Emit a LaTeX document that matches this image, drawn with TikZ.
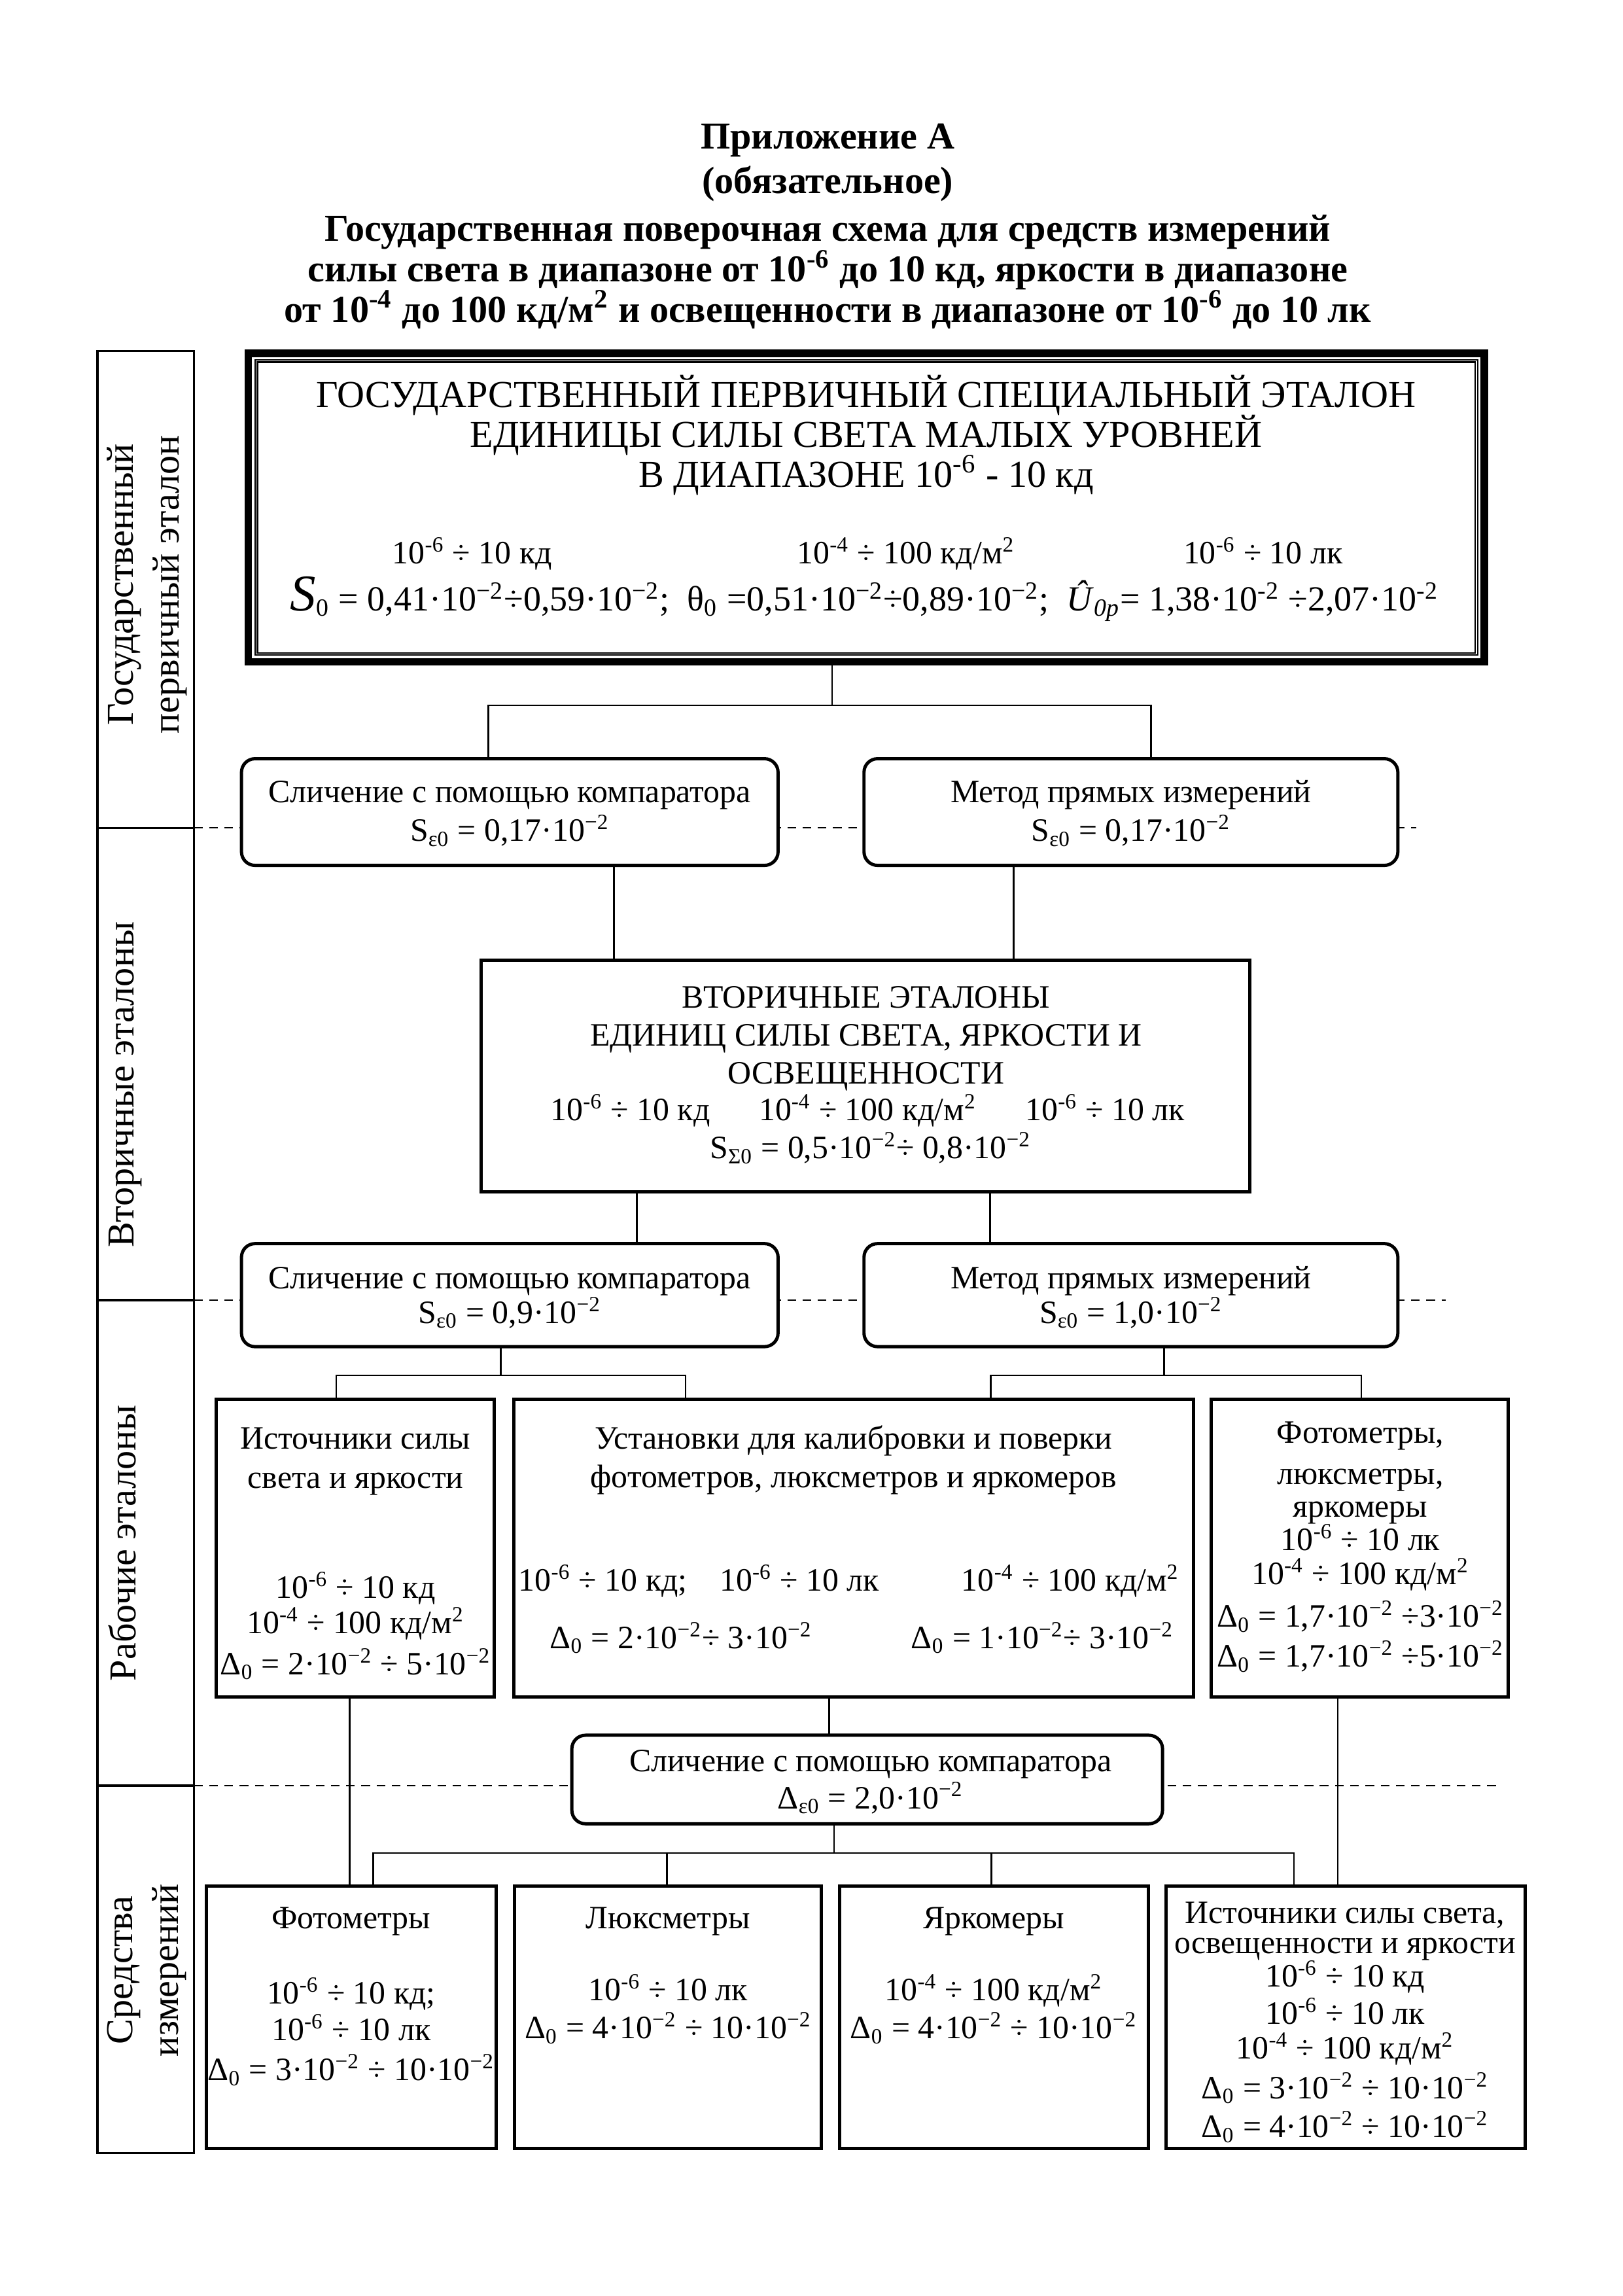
\documentclass[tikz,border=0pt]{standalone}
\usepackage{fontspec}
\setmainfont{Liberation Serif}
\newcommand{\supx}[1]{\textsuperscript{#1}}
\newcommand{\subx}[1]{\textsubscript{#1}}
\newcommand{\rkd}{10\supx{-6} ÷ 10 кд}
\newcommand{\rlk}{10\supx{-6} ÷ 10 лк}
\newcommand{\rkm}{10\supx{-4} ÷ 100 кд/м\supx{2}}
\begin{document}
\begin{tikzpicture}[x=0.0190909cm,y=-0.0190909cm,
  every node/.style={inner sep=0pt,outer sep=0pt},
  box/.style={draw,line width=1.2pt,fill=white},
  rbox/.style={box,rounded corners=5pt},
  txt/.style={anchor=base,font=\fontsize{12}{14}\selectfont},
  big/.style={anchor=base,font=\fontsize{14}{16}\selectfont},
  head/.style={anchor=base,font=\fontsize{14}{16}\selectfont\bfseries},
  side/.style={rotate=90,align=center,font=\fontsize{14}{17}\selectfont},
  conn/.style={line width=0.6pt},
  level/.style={line width=0.5pt,dash pattern=on 3.2pt off 2.4pt}]
  \useasboundingbox (0,0) rectangle (1100,1555.8);
  % title
  \node[head] (ttl1) at (561,100.8) {Приложение А};
  \node[head] (ttl2) at (561,131) {(обязательное)};
  \node[head] (ttl3) at (561,163.6) {Государственная поверочная схема для средств измерений};
  \node[head] (ttl4) at (561,191) {силы света в диапазоне от 10\supx{-6} до 10 кд, яркости в диапазоне};
  \node[head] (ttl5) at (561,218.3) {от 10\supx{-4} до 100 кд/м\supx{2} и освещенности в диапазоне от 10\supx{-6} до 10 лк};
  % levels column
  \draw[line width=0.8pt] (66,238) rectangle (131.5,1459);
  \foreach \y in {561,881,1210}
    \draw[line width=0.8pt] (66,\y) -- (131.5,\y);
  \node[side] (lv1) at (99.75,396) {Государственный\\первичный эталон};
  \node[side] (lv2) at (85,735) {Вторичные эталоны};
  \node[side] (lv3) at (83,1045.6) {Рабочие эталоны};
  \node[side] (lv4) at (99.5,1335) {Средства\\измерений};
  % dashed level borders
  \draw[level] (131.5,561) -- (960,561);
  \draw[level] (131.5,881) -- (980,881);
  \draw[level] (131.5,1210) -- (1015,1210);
  % primary standard
  \node[box,line width=2.8pt,minimum width=15.991cm,minimum height=3.992cm] (prim) at (587.2,343.85) {};
  \draw[line width=0.5pt,double,double distance=0.4pt] ([shift={(5.3,5.3)}]prim.north west) rectangle ([shift={(-5.3,-5.3)}]prim.south east);
  \node[big] (p1) at (587,276) {ГОСУДАРСТВЕННЫЙ ПЕРВИЧНЫЙ СПЕЦИАЛЬНЫЙ ЭТАЛОН};
  \node[big] (p2) at (587,303) {ЕДИНИЦЫ СИЛЫ СВЕТА МАЛЫХ УРОВНЕЙ};
  \node[big] (p3) at (587,330) {В ДИАПАЗОНЕ 10\supx{-6} - 10 кд};
  \node[txt] (p4) at (320,382) {\rkd};
  \node[txt] (p5) at (614,382) {\rkm};
  \node[txt] (p6) at (856,382) {\rlk};
  \node[txt,font=\fontsize{13}{15}\selectfont] (p7) at (586,414) {{\fontsize{19}{19}\selectfont\itshape S}\subx{0} = 0,41·10\supx{−2}÷0,59·10\supx{−2};\ \ θ\subx{0} =0,51·10\supx{−2}÷0,89·10\supx{−2};\ \ \textit{Û}\subx{\textit{0p}}= 1,38·10\supx{-2} ÷2,07·10\supx{-2}};
  % transfer to secondary
  \node[rbox,minimum width=6.942cm,minimum height=1.380cm] (cmpA) at (345.5,550.25) {};
  \node[rbox,minimum width=6.907cm,minimum height=1.380cm] (dirA) at (766.5,550.25) {};
  \node[txt] (a1) at (345.5,544) {Сличение с помощью компаратора};
  \node[txt] (a2) at (345.5,570) {S\subx{ε0} = 0,17·10\supx{−2}};
  \node[txt] (a3) at (766.5,544) {Метод прямых измерений};
  \node[txt] (a4) at (766.5,570) {S\subx{ε0} = 0,17·10\supx{−2}};
  % secondary standards
  \node[box,minimum width=9.943cm,minimum height=2.997cm] (sec) at (586.5,729.1) {};
  \node[txt] (s1) at (587,683) {ВТОРИЧНЫЕ ЭТАЛОНЫ};
  \node[txt] (s2) at (587,708.7) {ЕДИНИЦ СИЛЫ СВЕТА, ЯРКОСТИ И};
  \node[txt] (s3) at (587,734.4) {ОСВЕЩЕННОСТИ};
  \node[txt] (s4) at (588,759.3) {\rkd\hspace{18pt}\rkm\hspace{18pt}\rlk};
  \node[txt] (s5) at (590,785) {S\subx{Σ0} = 0,5·10\supx{−2}÷ 0,8·10\supx{−2}};
  % transfer to working
  \node[rbox,minimum width=6.942cm,minimum height=1.333cm] (cmpB) at (345.5,877.6) {};
  \node[rbox,minimum width=6.907cm,minimum height=1.333cm] (dirB) at (766.5,877.6) {};
  \node[txt] (b1) at (345.5,873) {Сличение с помощью компаратора};
  \node[txt] (b2) at (345.5,896.7) {S\subx{ε0} = 0,9·10\supx{−2}};
  \node[txt] (b3) at (766.5,873) {Метод прямых измерений};
  \node[txt] (b4) at (766.5,896.7) {S\subx{ε0} = 1,0·10\supx{−2}};
  % working standards
  \node[box,minimum width=3.601cm,minimum height=3.849cm] (srcW) at (240.8,1048.9) {};
  \node[box,minimum width=8.797cm,minimum height=3.849cm] (instW) at (578.5,1048.9) {};
  \node[box,minimum width=3.843cm,minimum height=3.849cm] (metW) at (921.55,1048.9) {};
  \node[txt] (w1) at (241,982) {Источники силы};
  \node[txt] (w2) at (241,1008.4) {света и яркости};
  \node[txt] (w3) at (241,1083) {\rkd};
  \node[txt] (w4) at (241,1106.8) {\rkm};
  \node[txt] (w5) at (241,1134.8) {Δ\subx{0} = 2·10\supx{−2} ÷ 5·10\supx{−2}};
  \node[txt] (i1) at (578.5,982) {Установки для калибровки и поверки};
  \node[txt] (i2) at (578.5,1008) {фотометров, люксметров и яркомеров};
  \node[txt] (i3) at (473.6,1078) {10\supx{-6} ÷ 10 кд;\quad\rlk};
  \node[txt] (i4) at (725.5,1078) {\rkm};
  \node[txt] (i5) at (461.6,1117) {Δ\subx{0} = 2·10\supx{−2}÷ 3·10\supx{−2}};
  \node[txt] (i6) at (706.5,1117) {Δ\subx{0} = 1·10\supx{−2}÷ 3·10\supx{−2}};
  \node[txt] (m1) at (922,978) {Фотометры,};
  \node[txt] (m2) at (922,1005.8) {люксметры,};
  \node[txt] (m3) at (922,1027.8) {яркомеры};
  \node[txt] (m4) at (922,1050.7) {\rlk};
  \node[txt] (m5) at (922,1073.6) {\rkm};
  \node[txt] (m6) at (922,1102.5) {Δ\subx{0} = 1,7·10\supx{−2} ÷3·10\supx{−2}};
  \node[txt] (m7) at (922,1129.6) {Δ\subx{0} = 1,7·10\supx{−2} ÷5·10\supx{−2}};
  % transfer to instruments
  \node[rbox,minimum width=7.642cm,minimum height=1.145cm] (cmpC) at (587.75,1205.8) {};
  \node[txt] (c1) at (590,1200.5) {Сличение с помощью компаратора};
  \node[txt] (c2) at (590,1225.5) {Δ\subx{ε0} = 2,0·10\supx{−2}};
  % measuring instruments
  \node[box,minimum width=3.746cm,minimum height=3.394cm] (phot) at (238.2,1367) {};
  \node[box,minimum width=3.967cm,minimum height=3.394cm] (lux) at (452.6,1367) {};
  \node[box,minimum width=4.0cm,minimum height=3.394cm] (lum) at (673.65,1367) {};
  \node[box,minimum width=4.651cm,minimum height=3.394cm] (srcM) at (912.1,1367) {};
  \node[txt] (f1) at (238,1306.8) {Фотометры};
  \node[txt] (f2) at (238,1357.8) {10\supx{-6} ÷ 10 кд;};
  \node[txt] (f3) at (238,1382.7) {\rlk};
  \node[txt] (f4) at (238,1409.8) {Δ\subx{0} = 3·10\supx{−2} ÷ 10·10\supx{−2}};
  \node[txt] (l1) at (452.8,1306.8) {Люксметры};
  \node[txt] (l2) at (452.8,1355.6) {\rlk};
  \node[txt] (l3) at (452.8,1381.5) {Δ\subx{0} = 4·10\supx{−2} ÷ 10·10\supx{−2}};
  \node[txt] (y1) at (673.5,1306.8) {Яркомеры};
  \node[txt] (y2) at (673.5,1355.6) {\rkm};
  \node[txt] (y3) at (673.5,1381.5) {Δ\subx{0} = 4·10\supx{−2} ÷ 10·10\supx{−2}};
  \node[txt] (r1) at (911.6,1303.5) {Источники силы света,};
  \node[txt] (r2) at (911.6,1323.8) {освещенности и яркости};
  \node[txt] (r3) at (911.6,1346.5) {\rkd};
  \node[txt] (r4) at (911.6,1371.4) {\rlk};
  \node[txt] (r5) at (911.6,1395) {\rkm};
  \node[txt] (r6) at (911.6,1422) {Δ\subx{0} = 3·10\supx{−2} ÷ 10·10\supx{−2}};
  \node[txt] (r7) at (911.6,1448.4) {Δ\subx{0} = 4·10\supx{−2} ÷ 10·10\supx{−2}};
  % connectors
  \coordinate (jA) at (564,478);
  \coordinate (jAl) at (331,478);
  \coordinate (jAr) at (780,478);
  \draw[conn] (prim.south -| jA) -- (jA);
  \draw[conn] (cmpA.north -| jAl) -- (jAl) -- (jAr) -- (dirA.north -| jAr);
  \coordinate (kA) at (416,600);
  \coordinate (kB) at (687,600);
  \draw[conn] (cmpA.south -| kA) -- (sec.north -| kA);
  \draw[conn] (dirA.south -| kB) -- (sec.north -| kB);
  \coordinate (mA) at (431.7,825);
  \coordinate (mB) at (671,825);
  \draw[conn] (sec.south -| mA) -- (cmpB.north -| mA);
  \draw[conn] (sec.south -| mB) -- (dirB.north -| mB);
  \coordinate (jB) at (339.5,932);
  \coordinate (jBl) at (228,932);
  \coordinate (jBr) at (464.6,932);
  \draw[conn] (cmpB.south -| jB) -- (jB);
  \draw[conn] (srcW.north -| jBl) -- (jBl) -- (jBr) -- (instW.north -| jBr);
  \coordinate (jC) at (789,932);
  \coordinate (jCl) at (671.5,932);
  \coordinate (jCr) at (922.6,932);
  \draw[conn] (dirB.south -| jC) -- (jC);
  \draw[conn] (instW.north -| jCl) -- (jCl) -- (jCr) -- (metW.north -| jCr);
  \coordinate (nA) at (237,1200);
  \coordinate (nB) at (562,1160);
  \coordinate (nC) at (906.7,1200);
  \draw[conn] (srcW.south -| nA) -- (phot.north -| nA);
  \draw[conn] (instW.south -| nB) -- (cmpC.north -| nB);
  \draw[conn] (metW.south -| nC) -- (srcM.north -| nC);
  \coordinate (jD) at (565.3,1255.6);
  \coordinate (jD1) at (253,1255.6);
  \coordinate (jD2) at (452,1255.6);
  \coordinate (jD3) at (672,1255.6);
  \coordinate (jD4) at (877,1255.6);
  \draw[conn] (cmpC.south -| jD) -- (jD);
  \draw[conn] (phot.north -| jD1) -- (jD1) -- (jD4) -- (srcM.north -| jD4);
  \draw[conn] (lux.north -| jD2) -- (jD2);
  \draw[conn] (lum.north -| jD3) -- (jD3);
\end{tikzpicture}
\end{document}
